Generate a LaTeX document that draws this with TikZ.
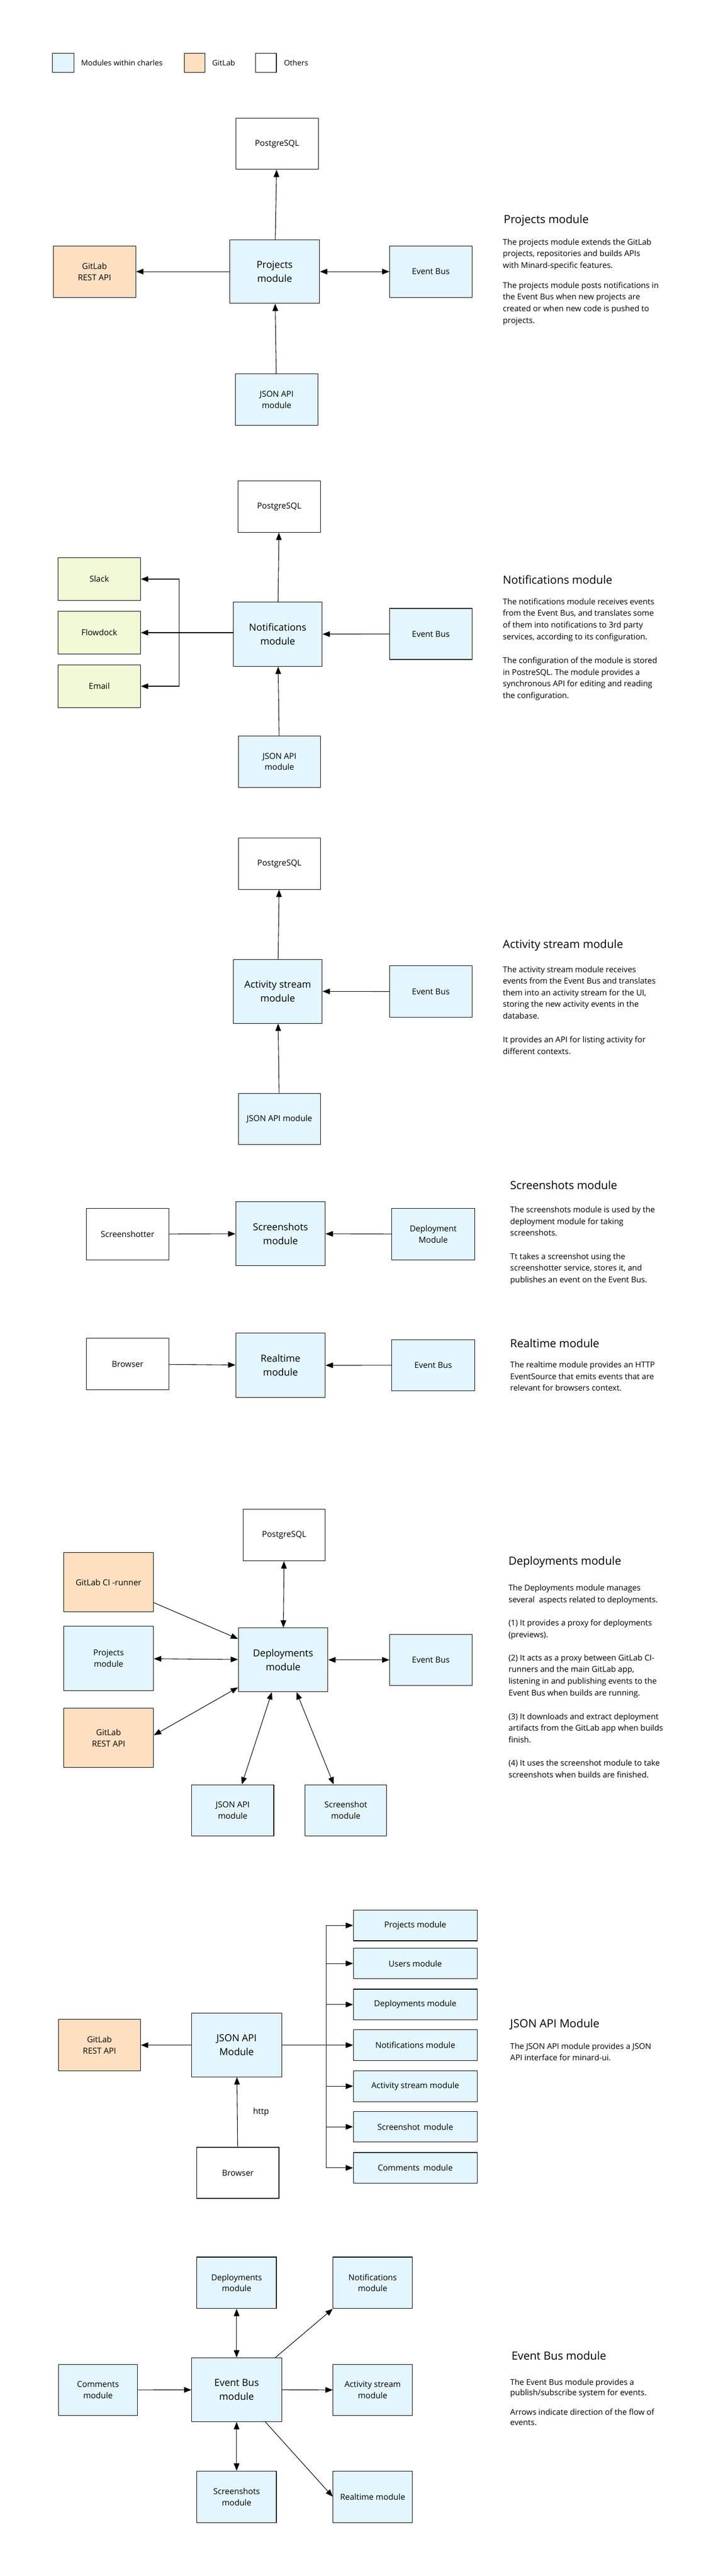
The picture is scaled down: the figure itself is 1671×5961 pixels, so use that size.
\documentclass[tikz,border=0pt]{standalone}
\usepackage{fontspec}
\setmainfont{Open Sans}
\usetikzlibrary{arrows.meta,calc}
\definecolor{cblue}{RGB}{227,246,253}
\definecolor{corange}{RGB}{255,223,193}
\definecolor{cgreen}{RGB}{240,250,214}
\begin{document}
\begin{tikzpicture}[x=1pt,y=-1pt,line width=1.3pt,
  box/.style={draw=black,line width=1.3pt,inner sep=0pt,align=center,font=\fontsize{19}{26}\selectfont},
  big/.style={font=\fontsize{22.5}{32}\selectfont},
  mb/.style={box,fill=cblue},
  gb/.style={box,fill=corange},
  ob/.style={box,fill=white},
  sb/.style={box,fill=cgreen},
  sz/.style 2 args={minimum width=#1pt,minimum height=#2pt},
  arr/.style={-{Triangle[length=17pt,width=13pt]}},
  barr/.style={{Triangle[length=17pt,width=13pt]}-{Triangle[length=17pt,width=13pt]}},
  ttl/.style={anchor=west,inner sep=0pt,font=\fontsize{26}{30}\selectfont},
  desc/.style={anchor=north west,inner sep=0pt,align=left,font=\fontsize{18.5}{27}\selectfont},
  leg/.style={anchor=west,inner sep=0pt,font=\fontsize{17.5}{20}\selectfont}]
\fill[white] (0,0) rectangle (1671,5961);
\useasboundingbox (0,0) rectangle (1671,5961);

% legend
\node[mb,sz={50}{44}] (lg1) at (146,145) {};
\node[gb,sz={48}{44}] (lg2) at (450,145) {};
\node[ob,sz={48}{44}] (lg3) at (615,145) {};
\node[leg] (lgt1) at (187,145) {Modules within charles};
\node[leg] (lgt2) at (490,145) {GitLab};
\node[leg] (lgt3) at (656,145) {Others};

% ---------- Projects module
\node[ob,sz={191}{118}] (pg1) at (640.5,333) {PostgreSQL};
\node[mb,big,sz={208}{147}] (proj1) at (635,628.5) {Projects\\module};
\node[gb,sz={191}{119}] (gl1) at (218.5,628.5) {GitLab\\REST API};
\node[mb,sz={190}{119}] (eb1) at (996,628.5) {Event Bus};
\node[mb,sz={191}{119}] (json1) at (639.5,924.5) {JSON API\\module};
\draw[arr] (proj1) -- (pg1);
\draw[arr] (proj1) -- (gl1);
\draw[barr] (proj1) -- (eb1);
\draw[arr] (json1) -- (proj1);
\node[ttl] (t1) at (1164,510) {Projects module};
\node[desc] (d1a) at (1162,552) {The projects module extends the GitLab\\projects, repositories and builds APIs\\with Minard-specific features.};
\node[desc] (d1b) at (1162,652) {The projects module posts notifications in\\the Event Bus when new projects are\\created or when new code is pushed to\\projects.};

% ---------- Notifications module
\node[ob,sz={191}{119}] (pg2) at (645.5,1172.5) {PostgreSQL};
\node[sb,sz={191}{100}] (slack) at (229.5,1340) {Slack};
\node[sb,sz={191}{100}] (flow) at (229.5,1464) {Flowdock};
\node[sb,sz={191}{100}] (email) at (229.5,1588) {Email};
\node[mb,big,sz={206}{149}] (notif2) at (642,1467.5) {Notifications\\module};
\node[mb,sz={190}{118}] (eb2) at (996,1467) {Event Bus};
\node[mb,sz={190}{119}] (json2) at (646,1762.5) {JSON API\\module};
\coordinate (nj) at (414,1464);
\draw[arr] (notif2) -- (pg2);
\draw[arr] (eb2) -- (notif2);
\draw[arr] (json2) -- (notif2);
\draw[arr] (notif2.west |- flow) -- (flow);
\draw[arr] (nj) |- (slack);
\draw[arr] (nj) |- (email);
\node[ttl] (t2) at (1162,1342) {Notifications module};
\node[desc] (d2a) at (1162,1384) {The notifications module receives events\\from the Event Bus, and translates some\\of them into notifications to 3rd party\\services, according to its configuration.};
\node[desc] (d2b) at (1162,1520) {The configuration of the module is stored\\in PostreSQL. The module provides a\\synchronous API for editing and reading\\the configuration.};

% ---------- Activity stream module
\node[ob,sz={190}{119}] (pg3) at (646,1998.5) {PostgreSQL};
\node[mb,big,sz={206}{148}] (act3) at (642,2294) {Activity stream\\module};
\node[mb,sz={190}{119}] (eb3) at (996,2294.5) {Event Bus};
\node[mb,sz={190}{118}] (json3) at (646,2589) {JSON API module};
\draw[arr] (act3) -- (pg3);
\draw[arr] (eb3) -- (act3);
\draw[arr] (json3) -- (act3);
\node[ttl] (t3) at (1162,2187) {Activity stream module};
\node[desc] (d3a) at (1162,2235) {The activity stream module receives\\events from the Event Bus and translates\\them into an activity stream for the UI,\\storing the new activity events in the\\database.};
\node[desc] (d3b) at (1162,2398) {It provides an API for listing activity for\\different contexts.};

% ---------- Screenshots module
\node[ob,sz={190}{119}] (shotter) at (295,2855.5) {Screenshotter};
\node[mb,big,sz={207}{148}] (shots4) at (648.5,2855) {Screenshots\\module};
\node[mb,sz={191}{119}] (dep4) at (1001.5,2855.5) {Deployment\\Module};
\draw[arr] (shotter) -- (shots4);
\draw[arr] (dep4) -- (shots4);
\node[ttl] (t4) at (1179,2743) {Screenshots module};
\node[desc] (d4a) at (1179,2791) {The screenshots module is used by the\\deployment module for taking\\screenshots.};
\node[desc] (d4b) at (1179,2899) {Tt takes a screenshot using the\\screenshotter service, stores it, and\\publishes an event on the Event Bus.};

% ---------- Realtime module
\node[ob,sz={190}{119}] (br5) at (295,3156.5) {Browser};
\node[mb,big,sz={207}{149}] (rt5) at (648.5,3159.5) {Realtime\\module};
\node[mb,sz={191}{118}] (eb5) at (1001.5,3159) {Event Bus};
\draw[arr] (br5) -- (rt5);
\draw[arr] (eb5) -- (rt5);
\node[ttl] (t5) at (1179,3108) {Realtime module};
\node[desc] (d5a) at (1179,3150) {The realtime module provides an HTTP\\EventSource that emits events that are\\relevant for browsers context.};

% ---------- Deployments module
\node[ob,sz={190}{120}] (pg6) at (657,3552) {PostgreSQL};
\node[gb,sz={208}{137}] (ci6) at (251,3661.5) {GitLab CI -runner};
\node[mb,sz={208}{149}] (proj6) at (251,3837.5) {Projects\\module};
\node[gb,sz={208}{137}] (gl6) at (251,4021.5) {GitLab\\REST API};
\node[mb,big,sz={207}{148}] (dep6) at (654.5,3841) {Deployments\\module};
\node[mb,sz={190}{118}] (eb6) at (996,3841) {Event Bus};
\node[mb,sz={190}{118}] (json6) at (538,4189) {JSON API\\module};
\node[mb,sz={189}{118}] (scr6) at (799.5,4189) {Screenshot\\module};
\draw[arr] ($(ci6.south east)+(0,-22)$) -- ($(dep6.north west)+(0,26)$);
\draw[barr] (proj6) -- (dep6);
\draw[barr] ($(gl6.north east)+(0,63)$) -- ($(dep6.south west)+(0,-11)$);
\draw[barr] (pg6) -- (dep6);
\draw[barr] (dep6) -- (eb6);
\draw[barr] ($(dep6.south)+(-26,0)$) -- ($(json6.north)+(21,0)$);
\draw[barr] ($(dep6.south)+(31,0)$) -- ($(scr6.north)+(-28,0)$);
\node[ttl] (t6) at (1175,3615) {Deployments module};
\node[desc] (d6a) at (1175,3666) {The Deployments module manages\\several\ \ aspects related to deployments.};
\node[desc] (d6b) at (1175,3747) {(1) It provides a proxy for deployments\\(previews).};
\node[desc] (d6c) at (1175,3828) {(2) It acts as a proxy between GitLab CI-\\runners and the main GitLab app,\\listening in and publishing events to the\\Event Bus when builds are running.};
\node[desc] (d6d) at (1175,3964) {(3) It downloads and extract deployment\\artifacts from the GitLab app when builds\\finish.};
\node[desc] (d6e) at (1175,4072) {(4) It uses the screenshot module to take\\screenshots when builds are finished.};

% ---------- JSON API module
\node[gb,sz={190}{119}] (gl7) at (230,4732.5) {GitLab\\REST API};
\node[mb,big,sz={208}{147}] (json7) at (547,4732.5) {JSON API\\Module};
\node[ob,sz={190}{118}] (br7) at (550,5028) {Browser};
\node[mb,sz={286}{71}] (p7) at (960,4455.5) {Projects module};
\node[mb,sz={286}{71}] (u7) at (960,4543.5) {Users module};
\node[mb,sz={286}{71}] (d7) at (960,4638.5) {Deployments module};
\node[mb,sz={286}{71}] (n7) at (960,4732.5) {Notifications module};
\node[mb,sz={286}{71}] (a7) at (960,4827.5) {Activity stream module};
\node[mb,sz={286}{71}] (s7) at (960,4921.5) {Screenshot\hspace{0.45em}module};
\node[mb,sz={286}{71}] (c7) at (960,5016.5) {Comments\hspace{0.45em}module};
\coordinate (bus) at (754,4732.5);
\draw[arr] (json7) -- (gl7);
\draw[arr] (json7) -- (n7);
\draw[arr] (bus) |- (p7);
\draw[arr] (bus) |- (u7);
\draw[arr] (bus) |- (d7);
\draw[arr] (bus) |- (a7);
\draw[arr] (bus) |- (s7);
\draw[arr] (bus) |- (c7);
\draw[arr] (br7) -- node[right=36pt,font=\fontsize{19}{22}\selectfont,inner sep=0pt] (http) {http} (json7);
\node[ttl] (t7) at (1179,4684) {JSON API Module};
\node[desc] (d7a) at (1179,4727) {The JSON API module provides a JSON\\API interface for minard-ui.};

% ---------- Event Bus module
\node[mb,sz={184}{119}] (dep8) at (547,5282.5) {Deployments\\module};
\node[mb,sz={183}{119}] (not8) at (861.5,5282.5) {Notifications\\module};
\node[mb,sz={183}{119}] (com8) at (226.5,5530.5) {Comments\\module};
\node[mb,big,sz={208}{148}] (eb8) at (547,5530) {Event Bus\\module};
\node[mb,sz={183}{119}] (act8) at (861.5,5530.5) {Activity stream\\module};
\node[mb,sz={184}{119}] (scr8) at (547,5777.5) {Screenshots\\module};
\node[mb,sz={183}{119}] (rt8) at (861.5,5777.5) {Realtime module};
\draw[barr] (dep8) -- (eb8);
\draw[arr] ($(eb8.north east)+(-15,0)$) -- (not8.south west);
\draw[arr] (com8) -- (eb8);
\draw[arr] (eb8) -- (act8);
\draw[barr] (eb8) -- (scr8);
\draw[arr] ($(eb8.south east)+(-38,0)$) -- (rt8.west);
\node[ttl] (t8) at (1182,5451) {Event Bus module};
\node[desc,font=\fontsize{18.5}{23.5}\selectfont] (d8a) at (1179,5505) {The Event Bus module provides a\\publish/subscribe system for events.};
\node[desc,font=\fontsize{18.5}{23.5}\selectfont] (d8b) at (1179,5574) {Arrows indicate direction of the flow of\\events.};
\end{tikzpicture}
\end{document}
